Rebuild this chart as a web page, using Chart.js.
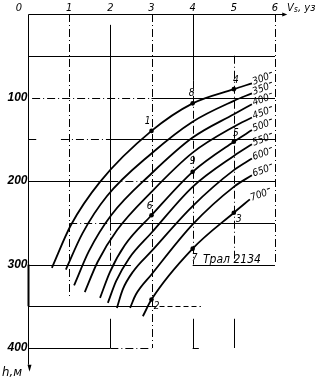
<!DOCTYPE html>
<html>
<head>
<meta charset="utf-8">
<script src="https://cdn.jsdelivr.net/npm/chart.js@4.4.1/dist/chart.umd.min.js"></script>
<style>
  html, body { margin: 0; padding: 0; background: #fff; }
  #wrap { width: 323px; height: 379px; position: relative; }
</style>
</head>
<body>
<div id="wrap"><canvas id="chart"></canvas></div>
<script>
// Vs, knots (top axis) and h, m (left axis, downwards)
const speedTicks = [0, 1, 2, 3, 4, 5, 6];
const depthTicks = [100, 200, 300, 400];

// one curve per warp length (m)
const curveLabels = ["300", "350", "400", "450", "500", "550", "600", "650", "700"];
const curveSpeeds = [
  [0.58, 1.04, 1.75, 3, 4, 5, 5.44],
  [0.92, 1.32, 1.92, 3, 4, 5, 5.44],
  [1.12, 1.48, 2.02, 3, 4, 5, 5.44],
  [1.38, 1.69, 2.16, 3, 4, 5, 5.44],
  [1.75, 1.99, 2.35, 3, 4, 5, 5.44],
  [1.94, 2.14, 2.45, 3, 4, 5, 5.44],
  [2.16, 2.30, 2.56, 3, 4, 5, 5.44],
  [2.48, 2.62, 3, 4, 5, 5.44],
  [2.79, 3, 4, 5, 5.39],
];
const curveDepths = [
  [304, 253, 201, 140, 107, 90, 83],
  [306, 263, 218, 167, 129, 104, 95],
  [325, 284, 241, 191, 148, 120, 108],
  [333, 297, 259, 213, 166, 135, 124],
  [340, 309, 277, 241, 189, 153, 139],
  [346, 320, 293, 262, 207, 170, 156],
  [352, 330, 308, 284, 230, 187, 173],
  [352, 336, 312, 252, 207, 193],
  [362, 342, 281, 238, 222],
];

// numbered test points
const pointNames = ["1", "8", "4", "6", "9", "5", "2", "7", "3"];
const pointSpeeds = [3, 4, 5, 3, 4, 5, 3, 4, 5];
const pointDepths = [140, 107, 90, 241, 189, 153, 342, 281, 238];

const FONT = '"Liberation Sans Narrow", "DejaVu Sans Condensed", sans-serif';
const font = (size) => `italic ${size}px ${FONT}`;

// drawing frame: [depth, speed from, speed to, style] and [speed, depth from, depth to, style]
const hLines = [
  [50, 0, 6, "solid"],
  [100, 0.1, 3, "dashdot"], [100, 3, 6, "solid"],
  [150, 0, 0.2, "solid"], [150, 0.8, 2, "dashdot"], [150, 2, 6, "solid"],
  [200, 0, 2, "solid"], [200, 2, 3, "dashdot"], [200, 3, 6, "solid"],
  [250, 1, 2, "dashdot"], [250, 2, 6, "solid"],
  [300, 0, 2.5, "solid"], [300, 4, 6, "solid"],
  [350, 0, 3, "solid"], [350, 3, 4.2, "dashed"],
  [400, 0, 2, "solid"], [400, 2, 3, "dashdot"], [400, 4, 4.15, "solid"],
];
const vLines = [
  [1, 0, 340, "dashdot"],
  [2, 13, 250, "solid"], [2, 250, 300, "dashdot"], [2, 365, 400, "solid"],
  [3, 0, 400, "dashdot"],
  [4, 0, 80, "solid"], [4, 80, 300, "dashdot"], [4, 365, 400, "solid"],
  [5, 50, 300, "dashdot"], [5, 365, 400, "solid"],
  [6, 0, 300, "dashdot"],
];
const pointLabelOffsets = [[-4, -9], [-1, -10], [2, -9], [-2, -9], [0, -10], [2, -8], [5, 7], [2, 10], [5, 7]];

const dashes = { solid: [], dashdot: [8, 3, 1, 3], dashed: [5, 3] };
const crisp = (p) => Math.round(p) + 0.5;

function seg(ctx, x1, y1, x2, y2, style) {
  ctx.setLineDash(dashes[style]);
  ctx.beginPath();
  ctx.moveTo(x1, y1);
  ctx.lineTo(x2, y2);
  ctx.stroke();
}

const drawing = {
  id: "drawing",
  beforeDatasetsDraw(chart) {
    const { ctx, scales: { x, y } } = chart;
    ctx.save();
    ctx.strokeStyle = "#000";
    ctx.lineWidth = 1;
    hLines.forEach(([h, v1, v2, style]) => {
      const py = crisp(y.getPixelForValue(h));
      seg(ctx, x.getPixelForValue(v1), py, x.getPixelForValue(v2), py, style);
    });
    vLines.forEach(([v, h1, h2, style]) => {
      const px = crisp(x.getPixelForValue(v));
      seg(ctx, px, y.getPixelForValue(h1), px, y.getPixelForValue(h2), style);
    });

    // axes with arrows
    const x0 = crisp(x.getPixelForValue(0));
    const y0 = crisp(y.getPixelForValue(0));
    const xEnd = x.getPixelForValue(6.2);
    const yEnd = y.getPixelForValue(420);
    seg(ctx, x0, y0, xEnd, y0, "solid");
    seg(ctx, x0, y0, x0, yEnd, "solid");
    ctx.lineWidth = 2;
    seg(ctx, x0, y.getPixelForValue(300), x0, y.getPixelForValue(350), "solid");
    ctx.fillStyle = "#000";
    ctx.beginPath();
    ctx.moveTo(xEnd + 4, y0);
    ctx.lineTo(xEnd - 1, y0 - 2);
    ctx.lineTo(xEnd - 1, y0 + 2);
    ctx.fill();
    ctx.beginPath();
    ctx.moveTo(x0 + 1, yEnd + 7);
    ctx.lineTo(x0 - 1, yEnd);
    ctx.lineTo(x0 + 3, yEnd);
    ctx.fill();

    // tick labels
    ctx.font = font(11);
    ctx.textAlign = "center";
    ctx.textBaseline = "alphabetic";
    speedTicks.forEach((v) => {
      const px = x.getPixelForValue(v);
      ctx.fillText(String(v), v === 0 ? px - 9 : px, 11);
    });
    ctx.font = 'italic bold 12px "Liberation Sans", sans-serif';
    ctx.textAlign = "right";
    ctx.textBaseline = "middle";
    depthTicks.forEach((h) => ctx.fillText(String(h), x0 - 1, y.getPixelForValue(h)));
    ctx.restore();
  },
  afterDatasetsDraw(chart) {
    const { ctx, scales: { x, y } } = chart;
    ctx.save();
    ctx.fillStyle = "#000";
    ctx.strokeStyle = "#000";
    ctx.lineWidth = 1;

    // curve labels at the upper ends
    curveLabels.forEach((label, i) => {
      const pts = chart.getDatasetMeta(i).data;
      const end = pts[pts.length - 1];
      ctx.save();
      ctx.translate(end.x + 1, end.y - 1);
      ctx.rotate(-0.35);
      ctx.font = font(10);
      ctx.textAlign = "left";
      ctx.textBaseline = "middle";
      ctx.fillText(label, 0, 0);
      const w = ctx.measureText(label).width;
      seg(ctx, w + 1, -3, w + 4, -3, "solid");
      ctx.restore();
    });

    // point numbers
    ctx.font = font(10);
    ctx.textAlign = "center";
    ctx.textBaseline = "middle";
    pointNames.forEach((name, i) => {
      const px = x.getPixelForValue(pointSpeeds[i]);
      const py = y.getPixelForValue(pointDepths[i]);
      ctx.fillText(name, px + pointLabelOffsets[i][0], py + pointLabelOffsets[i][1]);
    });

    // captions
    ctx.textAlign = "left";
    ctx.textBaseline = "alphabetic";
    ctx.font = font(12);
    ctx.fillText("Трал 2134", 203, 263);
    ctx.font = font(11);
    ctx.fillText("V", 287, 11);
    ctx.font = font(8);
    ctx.fillText("s", 294, 12);
    ctx.font = font(11);
    ctx.fillText(", уз", 298, 11);
    ctx.font = font(13);
    ctx.fillText("h,м", 2, 376);
    ctx.restore();
  },
};

const datasets = curveLabels.map((label, i) => ({
  label,
  data: curveSpeeds[i].map((v, j) => ({ x: v, y: curveDepths[i][j] })),
  showLine: true,
  borderColor: "#000",
  borderWidth: 1.8,
  pointRadius: 0,
  cubicInterpolationMode: "monotone",
  fill: false,
}));
datasets.push({
  label: "points",
  data: pointSpeeds.map((v, i) => ({ x: v, y: pointDepths[i] })),
  showLine: false,
  pointRadius: 2.3,
  backgroundColor: "#000",
  borderWidth: 0,
});

new Chart(document.getElementById("chart"), {
  type: "scatter",
  data: { datasets },
  options: {
    responsive: true,
    maintainAspectRatio: false,
    animation: false,
    devicePixelRatio: 1,
    layout: { padding: { left: 0, top: 0, right: 48, bottom: 31 } },
    plugins: { legend: { display: false }, tooltip: { enabled: false } },
    scales: {
      x: {
        type: "linear",
        position: "top",
        min: 0,
        max: 6,
        afterFit: (s) => { s.height = 14; },
        ticks: { display: false },
        grid: { display: false },
        border: { display: false },
      },
      y: {
        type: "linear",
        reverse: true,
        min: 0,
        max: 400,
        afterFit: (s) => { s.width = 28; },
        ticks: { display: false },
        grid: { display: false },
        border: { display: false },
      },
    },
  },
  plugins: [drawing],
});
</script>
</body>
</html>
